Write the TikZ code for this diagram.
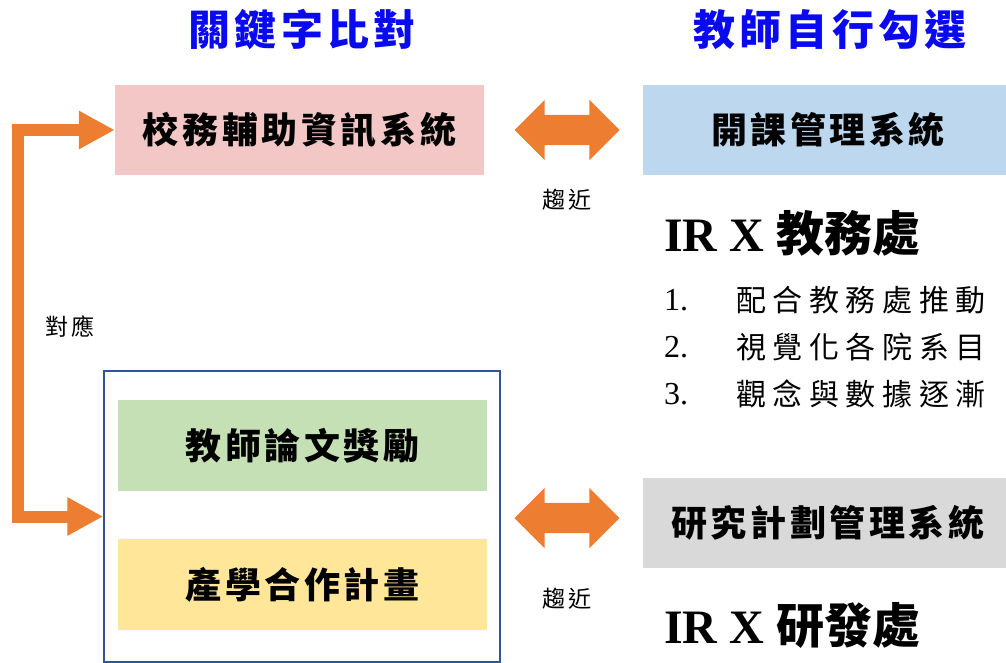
\documentclass[tikz,border=0pt]{standalone}
\usepackage{fontspec}
\setmainfont{Liberation Serif}
\newfontfamily\cjk{Noto Sans CJK TC}
\newfontfamily\cjkwide[LetterSpace=10]{Noto Sans CJK TC}
\newfontfamily\cjkwider[LetterSpace=22]{Noto Sans CJK TC}
\usepackage{tikz}
\usetikzlibrary{positioning,shapes.arrows,arrows.meta}

\definecolor{titleblue}{HTML}{0A0AF0}
\definecolor{pinkbox}{HTML}{F4C7C7}
\definecolor{bluebox}{HTML}{BDD7EE}
\definecolor{greenbox}{HTML}{C5E0B4}
\definecolor{yellowbox}{HTML}{FFE699}
\definecolor{graybox}{HTML}{D9D9D9}
\definecolor{frameblue}{HTML}{2F5597}
\definecolor{arroworange}{HTML}{ED7D31}

\begin{document}
\begin{tikzpicture}[x=1pt, y=-1pt,
  sysbox/.style = {minimum width=369pt, minimum height=90pt, inner sep=0pt,
    font=\cjkwide\bfseries\fontsize{36}{40}\selectfont},
  heading/.style = {text=titleblue, inner sep=0pt,
    font=\cjkwide\bfseries\fontsize{42}{46}\selectfont},
  twoway/.style = {double arrow, fill=arroworange, draw=none, minimum height=105pt,
    minimum width=60pt, inner sep=15pt, double arrow head extend=15pt},
  note/.style = {inner sep=0pt, font=\cjkwide\fontsize{23}{26}\selectfont},
  irtitle/.style = {anchor=west, inner sep=0pt, font=\bfseries\fontsize{48}{52}\selectfont},
  item/.style = {anchor=west, inner sep=0pt, font=\fontsize{32}{36}\selectfont},
  itemtext/.style = {anchor=west, inner sep=0pt, font=\cjkwider\fontsize{30}{36}\selectfont}]
  \useasboundingbox (0,0) rectangle (1006,662);
  \clip (0,0) rectangle (1006,662);

  % headings
  \node[heading] (kw) at (302,30) {關鍵字比對};
  \node[heading] (tc) at (830,30) {教師自行勾選};

  % left side
  \node[sysbox, fill=pinkbox] (school) at (299.5,130) {校務輔助資訊系統};
  \node[draw=frameblue, line width=1.5pt, minimum width=396pt, minimum height=291pt]
    (frame) at (302,516.5) {};
  \node[sysbox, fill=greenbox, minimum height=91pt] (award) at (302.5,445.5) {教師論文獎勵};
  \node[sysbox, fill=yellowbox, minimum height=91pt] (coop) at (302.5,584.5) {產學合作計畫};

  % right side
  \node[sysbox, fill=bluebox, minimum width=370pt] (course) at (828,130) {開課管理系統};
  \node[sysbox, fill=graybox, minimum width=370pt] (research) at (828,523) {研究計劃管理系統};

  % two-way arrows
  \node[twoway] (arr1) at (567,130) {};
  \node[note, below=43pt of arr1] (near1) {趨近};
  \node[twoway] (arr2) at (567,518) {};
  \node[note, below=54pt of arr2] (near2) {趨近};

  % correspondence bracket
  \coordinate (c1) at (18,130);
  \coordinate (c2) at (18,516.5);
  \draw[arroworange, line width=12pt, line join=miter,
    {Triangle[length=36pt, width=36pt]}-{Triangle[length=36pt, width=36pt]}]
    (school.west) -- (c1) -- (c2) -- (frame.west);
  \node[note] (match) at (70,327) {對應};

  % IR blocks
  \node[irtitle] (ir1) at (664,233) {IR X {\cjk 教務處}};
  \node[item] (i1) at (664,300) {1.};
  \node[item] (i2) at (664,347) {2.};
  \node[item] (i3) at (664,394) {3.};
  \node[itemtext] (t1) at (736,300) {配合教務處推動};
  \node[itemtext] (t2) at (736,347) {視覺化各院系目};
  \node[itemtext] (t3) at (736,394) {觀念與數據逐漸};
  \node[irtitle] (ir2) at (664,625) {IR X {\cjk 研發處}};
\end{tikzpicture}
\end{document}
